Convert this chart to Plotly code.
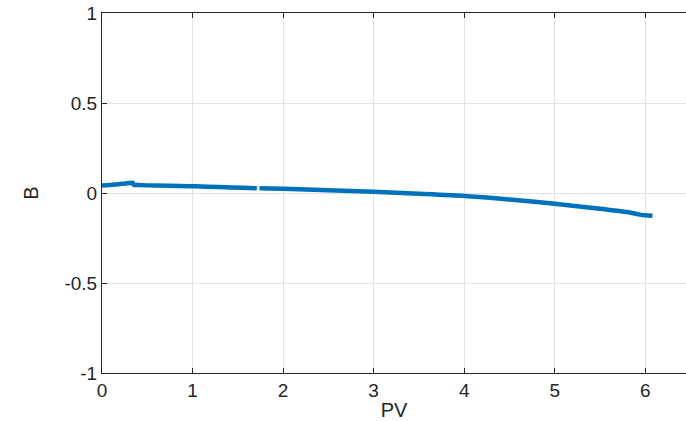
import plotly.graph_objects as go

# Data (PV vs B), with a small gap near PV=1.72
pv = [0.00, 0.05, 0.10, 0.15, 0.20, 0.25, 0.30, 0.34, 0.35, 0.40, 0.60, 0.86, 1.03, 1.30, 1.55, 1.71,
      None,
      1.74, 2.00, 2.50, 3.00, 3.50, 4.00, 4.50, 5.00, 5.50, 5.80, 5.94, 6.00, 6.08]
b = [0.041, 0.043, 0.045, 0.047, 0.050, 0.052, 0.055, 0.057, 0.045, 0.044, 0.041, 0.039, 0.037, 0.033, 0.029, 0.026,
     None,
     0.026, 0.023, 0.015, 0.007, -0.004, -0.016, -0.036, -0.060, -0.087, -0.106, -0.120, -0.124, -0.127]

x_ticks = [0, 1, 2, 3, 4, 5, 6]
y_ticks = [-1, -0.5, 0, 0.5, 1]
y_tick_text = ["-1", "-0.5", "0", "0.5", "1"]

fig = go.Figure()
fig.add_trace(go.Scatter(x=pv, y=b, mode="lines", connectgaps=False,
                         line=dict(color="#0072BD", width=4.5, shape="spline", smoothing=0.6),
                         showlegend=False))

axis_font = dict(family="Liberation Sans, Arial, sans-serif", size=19, color="#262626")

fig.update_layout(
    width=686, height=421,
    margin=dict(l=102, r=0, t=13, b=48),
    paper_bgcolor="white", plot_bgcolor="white",
    font=axis_font,
    xaxis=dict(range=[0, 6.45], tickvals=x_ticks, ticktext=[str(t) for t in x_ticks],
               showgrid=True, gridcolor="#e3e3e3", gridwidth=1, zeroline=False,
               showline=True, linecolor="#262626", linewidth=1, mirror="ticks",
               ticks="inside", ticklen=5, tickcolor="#262626",
               title=dict(text="PV", standoff=3, font=dict(size=20)),
               tickfont=axis_font),
    yaxis=dict(range=[-1, 1], tickvals=y_ticks, ticktext=y_tick_text,
               showgrid=True, gridcolor="#e3e3e3", gridwidth=1, zeroline=False,
               showline=True, linecolor="#262626", linewidth=1,
               ticks="inside", ticklen=5, tickcolor="#262626",
               title=dict(text="B", standoff=20, font=dict(size=20)),
               tickfont=axis_font),
)

fig.write_html("out.html")
